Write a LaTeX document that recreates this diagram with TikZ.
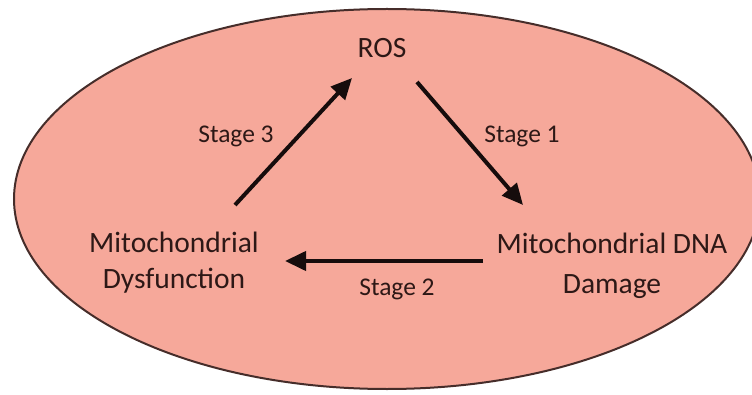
\documentclass[tikz,border=0pt]{standalone}
\usepackage{fontspec}
\setmainfont{Carlito}
\usetikzlibrary{arrows.meta}
\definecolor{salmon}{RGB}{246,168,154}
\definecolor{rim}{RGB}{70,45,42}
\definecolor{ink}{RGB}{45,24,22}
\definecolor{arrowink}{RGB}{22,12,12}
\tikzset{
  lbl/.style={text=ink, inner sep=0pt, font=\fontsize{29.5}{36}\selectfont, align=center},
  stagelbl/.style={text=ink, inner sep=0pt, font=\fontsize{25.5}{30}\selectfont},
  arr/.style={draw=arrowink, line width=4pt, -{Triangle[length=21pt,width=19pt]}}
}
\begin{document}
\begin{tikzpicture}[x=1pt,y=1pt]
\useasboundingbox (0,0) rectangle (752,394);
\fill[white] (0,0) rectangle (752,394);
\begin{scope}
\clip (0,0) rectangle (752,394);
\draw[rim, fill=salmon, line width=2pt] (387,195) ellipse [x radius=373, y radius=190];
\end{scope}
\node[lbl, anchor=base] (ros) at (382,336) {ROS};
\node[lbl, anchor=base] (dys) at (174,106) {Mitochondrial\\Dysfunction};
\node[lbl, anchor=base, font=\fontsize{29.5}{40}\selectfont] (dna) at (612,101) {Mitochondrial DNA\\Damage};
\node[stagelbl, anchor=base] (s1) at (522,251) {Stage 1};
\node[stagelbl, anchor=base] (s2) at (397,99) {Stage 2};
\node[stagelbl, anchor=base] (s3) at (236,251) {Stage 3};
\coordinate (a3s) at (235,189);
\coordinate (a3e) at (352,316);
\coordinate (a1s) at (417,312);
\coordinate (a1e) at (523,189);
\coordinate (a2s) at (483,133);
\coordinate (a2e) at (285,133);
\draw[arr] (a1s) -- (a1e);
\draw[arr] (a2s) -- (a2e);
\draw[arr] (a3s) -- (a3e);
\end{tikzpicture}
\end{document}
